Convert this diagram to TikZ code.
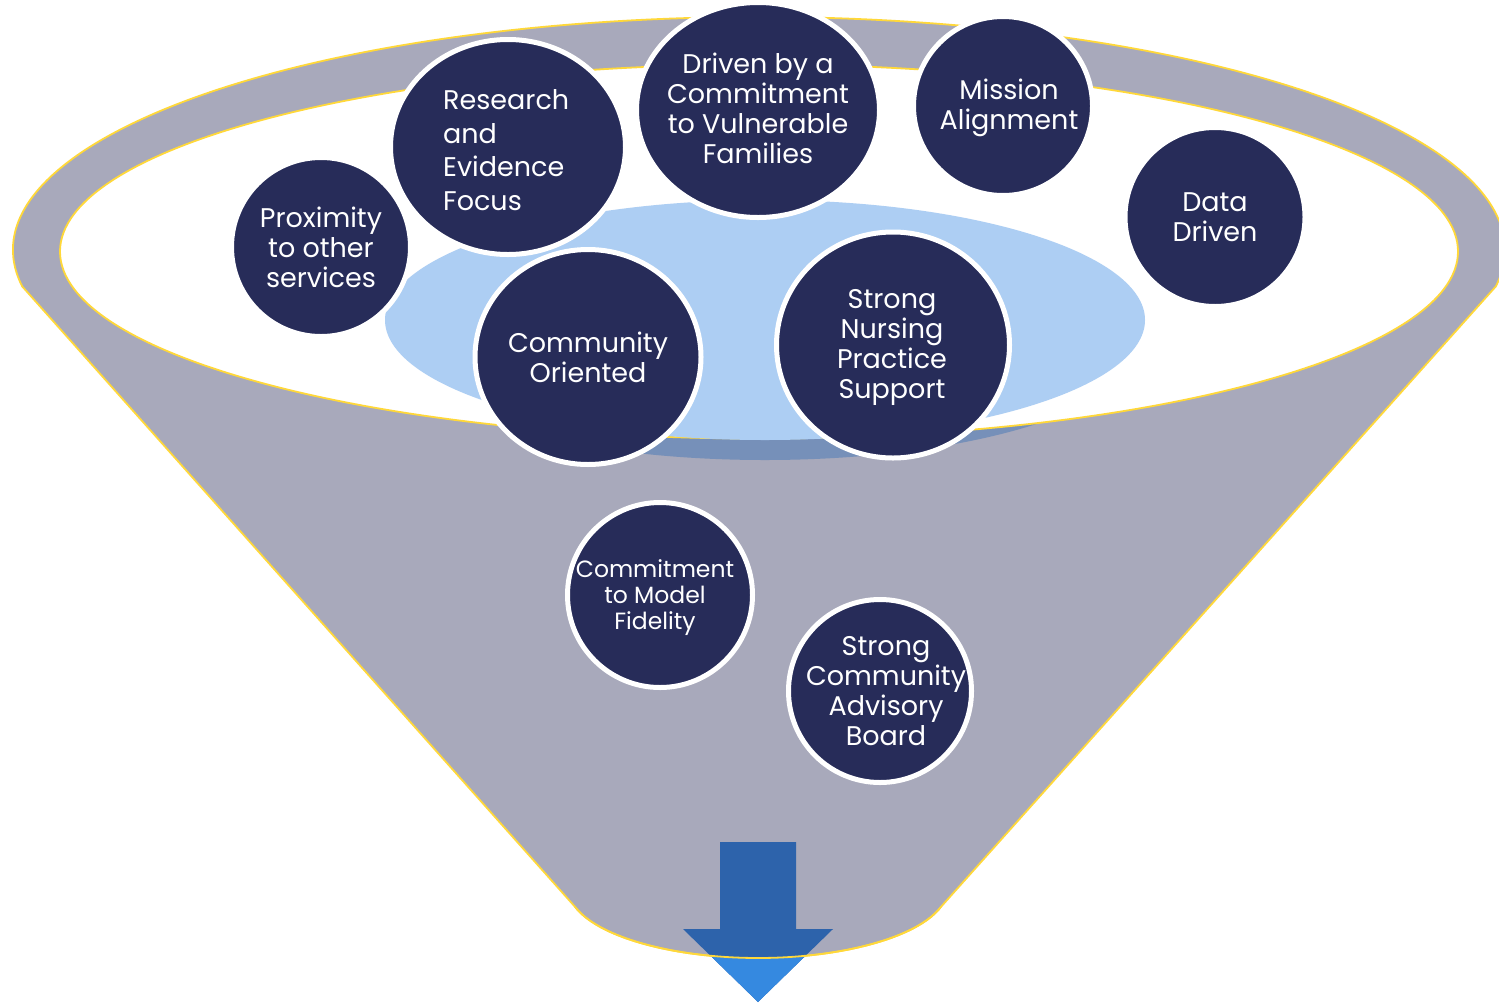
\documentclass[tikz,border=0pt]{standalone}
\usepackage{fontspec}
\setmainfont{Poppins}
\usetikzlibrary{shapes.geometric}
\definecolor{funnelgrey}{HTML}{A8A9BB}
\definecolor{rimyellow}{HTML}{FFD83A}
\definecolor{navy}{HTML}{272C59}
\definecolor{lightblue}{HTML}{ADCEF3}
\definecolor{shadowblue}{HTML}{7690B9}
\definecolor{arrowdark}{HTML}{2D63AB}
\definecolor{arrowlight}{HTML}{3589E0}
\begin{document}
\begin{tikzpicture}[x=1pt,y=1pt,yscale=-1,
  bub/.style={ellipse, fill=navy, draw=white, line width=5pt, inner sep=0pt},
  txt/.style={text=white, align=center, inner sep=0pt, font=\fontsize{27}{30}\selectfont},
  rim/.style={draw=rimyellow, line width=1.8pt}]
\useasboundingbox (0,0) rectangle (1499,1002);
\clip (0,0) rectangle (1499,1002);
% funnel body
\filldraw[fill=funnelgrey, rim] (575,906.8) -- (22.2,286.4)
  arc[start angle=171, end angle=369, x radius=746, y radius=233]
  -- (941,906.8)
  arc[start angle=15.6, end angle=164.4, x radius=190, y radius=70] -- cycle;
% shadow under the light blue ellipse
\fill[shadowblue] (765,340) ellipse [x radius=380, y radius=120];
% inner opening
\filldraw[fill=white, rim] (759,251.5) ellipse [x radius=699, y radius=187];
% light blue ellipse
\fill[lightblue] (765,320) ellipse [x radius=380, y radius=120];
% arrow
\fill[arrowdark] (720,842) -- (796,842) -- (796,929) -- (833,929) -- (758,1002)
  -- (683,929) -- (720,929) -- cycle;
\begin{scope}
  \clip (575,906.8) arc[start angle=164.4, end angle=15.6, x radius=190, y radius=70]
    -- (941,1010) -- (575,1010) -- cycle;
  \fill[arrowlight] (720,842) -- (796,842) -- (796,929) -- (833,929) -- (758,1002)
    -- (683,929) -- (720,929) -- cycle;
\end{scope}
\draw[rim] (941,906.8) arc[start angle=15.6, end angle=164.4, x radius=190, y radius=70];
% bubbles
\node[bub, minimum width=179, minimum height=179] (prox) at (321,247) {};
\node[bub, minimum width=235, minimum height=215] (res) at (508,147) {};
\node[bub, minimum width=243, minimum height=215] (drv) at (758,110) {};
\node[bub, minimum width=179, minimum height=179] (mis) at (1003,106) {};
\node[bub, minimum width=180, minimum height=179] (data) at (1215,217) {};
\node[bub, minimum width=226, minimum height=215] (comm) at (588,357) {};
\node[bub, minimum width=233, minimum height=226] (nurs) at (893,345) {};
\node[bub, minimum width=185, minimum height=185] (fid) at (660,595) {};
\node[bub, minimum width=183, minimum height=183] (board) at (880,691) {};
% texts
\node[txt] (proxt) at (321,247) {Proximity\\to other\\services};
\node[txt, align=left, anchor=west, font=\fontsize{27}{33.5}\selectfont] (rest) at (443,150) {Research\\and\\Evidence\\Focus};
\node[txt] (drvt) at (758,108) {Driven by a\\Commitment\\to Vulnerable\\Families};
\node[txt] (mist) at (1009,108) {Mission\\Alignment};
\node[txt] (datat) at (1215,217) {Data\\Driven};
\node[txt] (commt) at (588,357) {Community\\Oriented};
\node[txt] (nurst) at (892,347) {Strong\\Nursing\\Practice\\Support};
\node[txt, font=\fontsize{23.5}{26}\selectfont] (fidt) at (655,598) {Commitment\\to Model\\Fidelity};
\node[txt] (boardt) at (886,691) {Strong\\Community\\Advisory\\Board};
\end{tikzpicture}
\end{document}
